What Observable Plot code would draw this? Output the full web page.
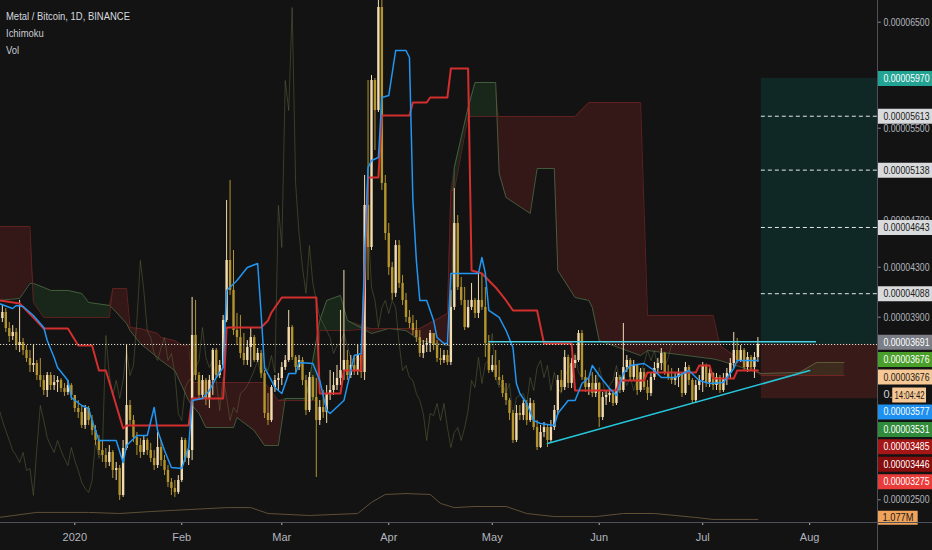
<!DOCTYPE html>
<html><head><meta charset="utf-8">
<script src="https://cdn.jsdelivr.net/npm/d3@7"></script>
<script src="https://cdn.jsdelivr.net/npm/@observablehq/plot@0.6"></script>
<style>
html,body{margin:0;padding:0;background:#131313;}
#wrap{position:relative;width:932px;height:550px;overflow:hidden;background:#131313;
  font-family:"Liberation Sans",Arial,sans-serif;}
#wrap svg{position:absolute;left:0;top:0;}
.leg{position:absolute;left:6px;font-size:10.5px;line-height:17px;color:#c9ccd3;white-space:nowrap;
  transform:scaleX(0.9);transform-origin:0 50%;}
.sep{position:absolute;background:#4e5159;}
</style></head>
<body><div id="wrap"></div>
<script>
// ---------- DATA (prices in satoshi = 1e-8 BTC) ----------
const firstDay = "2019-12-11";          // first daily candle
const firstOpen = 3890;
const close = [
3938,3813,3752,3783,3683,3706,3645,3583,3530,3545,
3453,3415,3338,3453,3376,3399,3415,3353,3323,3376,
3300,3200,3169,3070,3200,3108,3031,2955,2878,2840,
2786,2863,2725,2740,2533,2893,3223,3108,2977,2916,
2863,2955,2878,2817,2763,2901,2801,2725,2633,2587,
2556,2648,2955,2817,2878,3760,3453,3300,3415,3277,
3415,3645,3453,3530,3875,4358,4114,3798,3744,3622,
3568,3668,3744,3568,3622,3468,3162,3108,3361,3415,
3430,3514,3568,3821,3591,3514,3568,3415,3185,3438,
3284,3108,3208,3169,3315,3338,3376,3430,3491,3568,
3453,3530,3491,3606,3476,4833,4470,5950,5667,6639,
5023,4591,4297,4090,4487,4170,4034,3898,3852,3798,
3744,3622,3683,3698,3775,3683,3583,3568,3606,3553,
3978,4677,4138,4034,3821,3978,4034,3930,4034,3978,
3698,3491,3530,3438,3415,3315,3261,3162,2955,3162,
3146,3238,3108,3238,3054,2901,3016,3054,2955,3054,
3185,3415,3361,3591,3392,3545,3568,3775,3438,3361,
3392,3315,3392,3131,3284,3300,3315,3238,3438,3338,
3514,3568,3438,3530,3338,3476,3361,3315,3438,3507,
3545,3622,3476,3438,3415,3438,3468,3315,3514,3415,
3261,3376,3415,3530,3399,3468,3376,3438,3338,3430,
3468,3545,3645,3568,3645,3514,3591,3514,3591,3691];
const high = [
3994,3970,3859,3836,3813,4034,3737,3683,3645,3683,
3568,3583,3453,3476,3476,3453,3445,3430,3392,3415,
3390,3300,3261,3223,3223,3215,3146,3070,2993,2955,
2893,2916,2878,2786,2763,2955,3683,3261,3146,3016,
2970,2993,2970,2932,2878,3016,2955,2840,2763,2663,
2648,2686,2977,2970,2916,4058,4034,3476,3453,3430,
3453,3660,3660,3568,3914,4876,5048,4444,3930,3914,
3775,3721,3821,3760,3660,3645,3491,3315,3376,3453,
3468,3553,3606,3954,3836,3606,3606,3591,3453,3476,
3453,3430,3261,3338,3376,3491,3476,3530,3954,4274,
3645,3606,3606,3683,3606,5092,5950,5997,5969,6752,
6894,5092,4677,4341,4530,4530,4234,4090,3954,3914,
3875,3798,3721,3737,3798,3775,3721,3660,3645,3645,
4114,4979,4746,4218,4138,4034,4170,4050,4250,4250,
4138,3760,3606,3645,3568,3453,3392,3277,3185,3223,
3223,3261,3261,3277,3261,3108,3070,3093,3070,3108,
3223,3453,3491,3645,3610,3583,3606,3798,3798,3491,
3430,3476,3453,3400,3323,3338,3353,3323,3476,3453,
3852,3606,3583,3568,3530,3507,3507,3415,3476,3553,
3583,3660,3630,3530,3507,3476,3507,3475,3553,3530,
3430,3415,3453,3553,3540,3507,3475,3468,3453,3468,
3507,3583,3783,3737,3683,3660,3629,3606,3629,3744];
const low = [
3859,3783,3706,3721,3645,3629,3606,3553,3476,3476,
3415,3361,3300,3284,3338,3338,3323,3323,3292,3300,
3261,3169,3123,3047,3040,3070,2993,2916,2840,2786,
2740,2755,2663,2648,2495,2518,2878,3070,2939,2840,
2817,2840,2840,2786,2725,2740,2755,2686,2594,2533,
2518,2541,2633,2786,2763,2801,3415,3261,3277,3223,
3200,3300,3430,3430,3507,3859,4074,3760,3683,3583,
3530,3530,3514,3553,3553,3430,3123,3070,3093,3323,
3338,3376,3491,3553,3568,3476,3491,3376,3146,3169,
3261,2671,3070,3123,3085,3261,3300,3338,3376,3415,
3415,3430,3453,3453,3430,3415,4194,4444,5307,5648,
4962,4530,4234,4034,4058,4130,3994,3859,3813,3760,
3706,3591,3583,3629,3629,3645,3553,3530,3545,3530,
3530,3954,4114,3994,3798,3813,3954,3890,3890,3954,
3591,3468,3476,3415,3376,3284,3223,3108,2932,2939,
3108,3108,3070,3093,3031,2878,2893,2977,2901,2939,
3031,3146,3323,3338,3353,3353,3507,3553,3415,3323,
3300,3284,3284,3054,3108,3223,3246,3215,3223,3315,
3323,3476,3415,3415,3300,3323,3338,3261,3292,3415,
3476,3491,3453,3415,3384,3376,3361,3284,3300,3376,
3238,3238,3338,3323,3361,3361,3338,3338,3315,3323,
3376,3430,3507,3545,3553,3491,3476,3491,3430,3553];

// Ichimoku lines (MM-DD; December = 2019)
const tenkanDates = ["12-10","12-14","12-15","12-17","12-20","12-23","12-24","12-26","12-27","12-30",
"12-31","01-03","01-05","01-06","01-08","01-13","01-15","01-16","01-19","01-22",
"01-24","01-25","01-27","01-29","02-01","02-03","02-04","02-07","02-09","02-11",
"02-13","02-14","02-17","02-20","02-23","02-24","02-25","02-27","02-28","03-01",
"03-03","03-05","03-06","03-10","03-12","03-14","03-15","03-19","03-21","03-22",
"03-24","03-26","03-27","03-29","03-30","04-01","04-03","04-06","04-07","04-08",
"04-09","04-10","04-12","04-14","04-15","04-17","04-18","04-19","04-27","04-28",
"04-29","04-30","05-03","05-05","05-07","05-08","05-09","05-11","05-13","05-15",
"05-19","05-20","05-23","05-25","05-27","05-29","05-30","06-01","06-04","06-06",
"06-08","06-10","06-14","06-17","06-19","06-23","06-27","06-30","07-03","07-07",
"07-10","07-11","07-14","07-17"];
const tenkanValues = [4010,3970,3994,3986,3914,3821,3721,3591,3514,3415,
3284,3223,3200,3108,2955,2955,2786,2916,2993,2993,
3208,3031,2878,2748,2740,2901,3261,3277,3338,3438,
3514,4114,4194,4298,4332,3930,3514,3415,3361,3315,
3468,3468,3553,3545,3415,3185,3162,3261,3491,3606,
3622,5161,5221,5247,5790,5808,6233,6233,6167,4876,
4358,4034,4034,3875,3744,3698,3698,4250,4250,4384,
4250,3954,3898,3798,3668,3392,3315,3238,3108,3085,
3070,3162,3261,3261,3392,3438,3530,3453,3353,3300,
3468,3530,3545,3491,3438,3438,3491,3415,3392,3399,
3507,3568,3568,3568];
const kijunDates = ["12-10","12-16","12-20","12-23","12-30","01-02","01-06","01-08","01-10","01-15",
"01-16","02-03","02-04","02-13","02-14","02-24","02-26","02-27","03-01","03-11",
"03-12","03-18","03-19","03-24","03-26","03-29","03-30","04-07","04-08","04-12",
"04-13","04-18","04-19","04-24","04-25","04-28","04-30","05-02","05-05","05-07",
"05-14","05-16","05-24","05-25","06-06","06-07","06-14","06-15","06-29","06-30",
"07-03","07-04","07-10","07-11","07-17"];
const kijunValues = [4034,4010,3898,3813,3813,3683,3683,3491,3491,3047,
3070,3070,3277,3277,3821,3821,3875,3938,4058,4058,
3315,3315,3491,3491,5074,5074,5620,5620,5742,5742,
5790,5790,6063,6063,4274,4250,4194,4138,4034,3954,
3954,3698,3698,3338,3338,3415,3415,3476,3476,3530,
3530,3430,3430,3491,3491];
const cloudDates = ["12-10","12-16","12-19","12-20","12-23","12-25","12-30","01-03","01-05","01-11",
"01-12","01-16","01-17","01-20","01-25","01-26","01-30","02-01","02-03","02-04",
"02-06","02-08","02-16","02-17","02-22","02-25","02-29","03-02","03-08","03-11",
"03-12","03-14","03-18","03-20","03-27","04-01","04-06","04-10","04-18","04-19",
"04-20","04-24","04-26","05-02","05-03","05-05","05-12","05-14","05-19","05-20",
"05-25","05-29","05-30","06-01","06-13","06-15","07-04","07-06","07-18","07-29",
"08-03","08-11"];
const spanA = [4034,4050,4170,4170,4138,4114,4114,4090,4018,3994,
3970,3852,3798,3698,3591,3568,3491,3376,3261,3223,
3162,3054,3054,3131,3031,2916,2916,3277,3277,3721,
3875,4034,4074,3875,3775,3813,3798,3721,3683,3683,
5161,5695,5931,5931,5109,4902,4764,5152,5152,4274,
4058,4034,3978,3721,3606,3645,3580,3568,3468,3476,
3553,3553];
const spanB = [4651,4651,4651,4018,3898,3898,3898,3898,3898,3898,
4130,4130,3821,3813,3775,3744,3721,3683,3683,3399,
3399,3399,3399,3399,3399,3399,3261,3261,3261,3261,
3798,3798,3798,3798,3813,3813,3813,3813,3930,4962,
4962,5610,5610,5610,5610,5610,5610,5610,5610,5610,
5610,5742,5742,5742,5742,3914,3914,3683,3453,3453,
3453,3453];
const laggingShift = 25; // lagging span: close drawn 25 bars back

// Volume moving average (millions)
const volDates = ["12-10","12-21","01-05","01-14","01-23","02-14","02-21","02-26","03-09","03-23",
"03-27","03-31","04-06","04-13","04-16","04-20","04-26","05-05","05-11","05-19",
"05-31","06-08","06-17","06-29","07-04","07-17"];
const volValues = [1.15,2.3,2.3,2.05,2.5,3.4,3.4,2.05,1.6,2.05,
4.6,6.4,6.6,6.4,4.35,3.4,3.65,3.65,2.05,1.35,
1.35,2.05,2.05,1.15,0.7,0.7];

// Drawings
const lastPrice = 3691;
const entryLine = {from: "04-30", to: "08-03", value: 3712};
const trendLine = {dates: ["05-17", "08-01"], values: [2932, 3491]};
const position = {from: "07-18", entry: 3691, target: 5970, stop: 3275};
const targetLines = [5613, 5138, 4643, 4088];

// Axis labels
const yTicks = [6500, 5500, 4700, 4300, 3900, 2500];
const monthTicks = ["2020-01-01","2020-02-01","2020-03-01","2020-04-01","2020-05-01","2020-06-01","2020-07-01","2020-08-01"];
const monthLabels = ["2020","Feb","Mar","Apr","May","Jun","Jul","Aug"];
const topLabels = [
  {v: 5970, bg: "#22a394", fg: "#ffffff"},
  {v: 5613, bg: "#d9dadc", fg: "#1a1a1a"},
  {v: 5138, bg: "#d9dadc", fg: "#1a1a1a"},
  {v: 4643, bg: "#d9dadc", fg: "#1a1a1a"},
  {v: 4088, bg: "#d9dadc", fg: "#1a1a1a"}];
const stackValues = [3691, 3676, 3676, null, 3577, 3531, 3485, 3446, 3275];
const stackColors = ["#7b7e86", "#4a9f2b", "#f6c895", "#131313", "#1e90f0", "#2f8a3a", "#a51616", "#870c0c", "#ea3b3b"];
const stackText = ["#ffffff", "#ffffff", "#1a1a1a", "#d1d4dc", "#ffffff", "#ffffff", "#ffffff", "#ffffff", "#ffffff"];
const countdown = "14:04:42";
const volumeLabel = {v: 1.077, text: "1.077M"};

// ---------- BUILD ----------
const md = s => new Date((s.startsWith("12") ? "2019-" : "2020-") + s + "T00:00:00Z");
const fmt = v => (v / 1e8).toFixed(8);
const t0 = new Date(firstDay + "T00:00:00Z");
const candles = close.map((c, i) => ({
  date: d3.utcDay.offset(t0, i),
  open: i === 0 ? firstOpen : close[i - 1],
  high: high[i], low: low[i], close: c
}));
candles.forEach(d => d.color = d.close >= d.open ? "#f4dcb0" : "#b3942e");
const lagging = candles.map(d => ({date: d3.utcDay.offset(d.date, -laggingShift), v: d.close}));
const tenkan = tenkanDates.map((d, i) => ({date: md(d), v: tenkanValues[i]}));
const kijun = kijunDates.map((d, i) => ({date: md(d), v: kijunValues[i]}));
const cloud = cloudDates.map((d, i) => ({date: md(d), A: spanA[i], B: spanB[i]}));
const vol = volDates.map((d, i) => ({date: md(d), v: volValues[i]}));

const xStart = new Date("2019-12-10T11:00:00Z");
const xEnd = new Date("2020-08-20T16:00:00Z");
const xAt = days => d3.utcHour.offset(xEnd, Math.round(days * 24));
const FONT = '"Liberation Sans",Arial,sans-serif';
const tickLab = new Map(monthTicks.map((d, i) => [+new Date(d + "T00:00:00Z"), monthLabels[i]]));

const W = 932, H = 550, ML = 0, MR = 55, MT = 0, MB = 28;
const xOpt = {type: "utc", domain: [xStart, xEnd], range: [0, W - MR]};

function box(y, bg, dy, fromDays, toDays) {
  return Plot.ruleY([y], {y: d => d, x1: () => xAt(fromDays), x2: () => xAt(toDays), stroke: bg, strokeWidth: 15, dy});
}
function label(y, text, fg, dy, dx = 6) {
  return Plot.text([y], {y: d => d, x: () => xEnd, text: () => text, fill: fg, dx, dy, textAnchor: "start", fontSize: 11});
}

const marks = [];
// cloud
marks.push(Plot.areaY(cloud, {x: "date", y1: "B", y2: d => Math.max(d.A, d.B), fill: "#43a047", fillOpacity: 0.14, clip: true}));
marks.push(Plot.areaY(cloud, {x: "date", y1: "A", y2: d => Math.max(d.A, d.B), fill: "#c62828", fillOpacity: 0.19, clip: true}));
marks.push(Plot.line(cloud, {x: "date", y: "A", stroke: "#4f6b45", strokeWidth: 1, strokeOpacity: 0.8, clip: true}));
marks.push(Plot.line(cloud, {x: "date", y: "B", stroke: "#6e2424", strokeWidth: 1, strokeOpacity: 0.8, clip: true}));
// lagging span
marks.push(Plot.line(lagging, {x: "date", y: "v", stroke: "#59603a", strokeWidth: 1, strokeOpacity: 0.55, clip: true}));
// candles
marks.push(Plot.ruleX(candles, {x: "date", y1: "low", y2: "high", stroke: "color", strokeWidth: 1, clip: true}));
marks.push(Plot.ruleX(candles, {x: "date", y1: "open", y2: "close", stroke: "color", strokeWidth: 2.4, clip: true}));
// base & conversion lines
marks.push(Plot.line(kijun, {x: "date", y: "v", stroke: "#d32f2f", strokeWidth: 2, clip: true}));
marks.push(Plot.line(tenkan, {x: "date", y: "v", stroke: "#2196f3", strokeWidth: 1.5, clip: true}));
// position tool
marks.push(Plot.rect([position], {x1: d => md(d.from), x2: () => xEnd, y1: "entry", y2: "target", fill: "#009688", fillOpacity: 0.17}));
marks.push(Plot.rect([position], {x1: d => md(d.from), x2: () => xEnd, y1: "stop", y2: "entry", fill: "#f44336", fillOpacity: 0.17}));
marks.push(Plot.ruleY(targetLines, {y: d => d, x1: () => md(position.from), x2: () => xEnd, stroke: "#e6e6e6", strokeDasharray: "4,3", strokeWidth: 1}));
// price line, entry line, trend line
marks.push(Plot.ruleY([lastPrice], {y: d => d, stroke: "#e8e3d0", strokeDasharray: "1.2,1.8", strokeWidth: 1}));
marks.push(Plot.ruleY([entryLine], {y: "value", x1: d => md(d.from), x2: d => md(d.to), stroke: "#4dd0e1", strokeWidth: 1.5}));
marks.push(Plot.line(trendLine.dates.map((d, i) => ({date: md(d), v: trendLine.values[i]})), {x: "date", y: "v", stroke: "#26c6da", strokeWidth: 1.6}));

// right axis
yTicks.forEach(v => {
  marks.push(Plot.ruleY([v], {y: d => d, x1: () => xEnd, x2: () => xAt(1.1), stroke: "#8a8d95", strokeWidth: 1}));
  marks.push(label(v, fmt(v), "#b2b5be", 0));
});
topLabels.forEach(o => {
  marks.push(box(o.v, o.bg, 0, 0, 16));
  marks.push(label(o.v, fmt(o.v), o.fg, 0));
});
stackValues.forEach((v, k) => {
  const dy = k * 17.45 - 2.3;
  marks.push(box(lastPrice, stackColors[k], dy, 0, 16));
  marks.push(label(lastPrice, v == null ? "0." : fmt(v), stackText[k], dy));
  if (v == null) {
    marks.push(box(lastPrice, "#f6c895", dy + 0.5, 4.4, 14.2));
    marks.push(Plot.text([lastPrice], {y: d => d, x: () => xAt(9.3), text: () => countdown, fill: "#1a1a1a", dy: dy + 0.5, textAnchor: "middle", fontSize: 11}));
  }
});

const main = Plot.plot({
  width: W, height: H, marginLeft: ML, marginRight: MR, marginTop: MT, marginBottom: MB,
  style: {background: "transparent", color: "#b2b5be", fontFamily: FONT, fontSize: "11px"},
  x: {...xOpt, ticks: [...tickLab.keys()].map(t => new Date(t)), tickFormat: d => tickLab.get(+d), tickSize: 3, tickPadding: 8, label: null},
  y: {type: "linear", domain: [2330, 2500, 3900, 4300, 5500, 6500, 6705], range: [522, 499.3, 316.7, 266.7, 127.7, 21.7, 0], axis: null},
  color: {type: "identity"},
  marks
});

const volPlot = Plot.plot({
  width: W, height: H, marginLeft: ML, marginRight: MR, marginTop: MT, marginBottom: MB,
  style: {background: "transparent", fontFamily: FONT},
  x: {...xOpt, axis: null},
  y: {domain: [0, 12], range: [522, 469.4], axis: null},
  marks: [
    Plot.line(vol, {x: "date", y: "v", stroke: "#5e4f36", strokeWidth: 1, clip: true}),
    Plot.ruleY([volumeLabel.v], {y: d => d, x1: () => xEnd, x2: () => xAt(11.8), stroke: "#f2a35a", strokeWidth: 14}),
    Plot.text([volumeLabel], {y: "v", x: () => xEnd, text: "text", fill: "#1a1a1a", dx: 5, textAnchor: "start", fontSize: 11})
  ]
});

// condense right-axis texts to the narrow width of the reference font
function condense(svg) {
  svg.querySelectorAll("text").forEach(t => {
    const s = t.textContent;
    let w = null;
    if (/^0\.0\d{6}/.test(s)) w = 46;
    else if (s === countdown) w = 30;
    else if (s === volumeLabel.text) w = 31;
    if (w) { t.setAttribute("textLength", w); t.setAttribute("lengthAdjust", "spacingAndGlyphs"); }
  });
}
condense(main); condense(volPlot);

const wrap = document.getElementById("wrap");
wrap.appendChild(main);
wrap.appendChild(volPlot);
[["Metal / Bitcoin, 1D, BINANCE", 8, "#d6d9df"], ["Ichimoku", 25, "#c9ccd3"], ["Vol", 42, "#c9ccd3"]].forEach(([t, top, c]) => {
  const d = document.createElement("div"); d.className = "leg"; d.textContent = t; d.style.top = top + "px"; d.style.color = c; wrap.appendChild(d);
});
const h = document.createElement("div"); h.className = "sep"; Object.assign(h.style, {left: "0px", top: "522px", width: "932px", height: "1px"}); wrap.appendChild(h);
const v = document.createElement("div"); v.className = "sep"; Object.assign(v.style, {left: "877px", top: "0px", width: "1px", height: "550px"}); wrap.appendChild(v);
</script>
</body></html>
